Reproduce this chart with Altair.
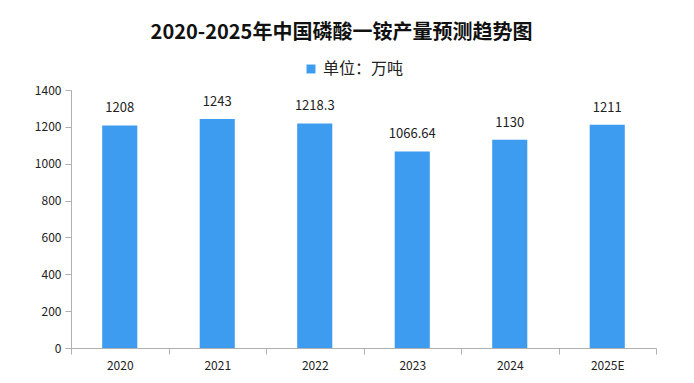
import altair as alt
import pandas as pd

years = ["2020", "2021", "2022", "2023", "2024", "2025E"]
values = [1208, 1243, 1218.3, 1066.64, 1130, 1211]
labels = ["1208", "1243", "1218.3", "1066.64", "1130", "1211"]
series = "单位：万吨"

df = pd.DataFrame({"year": years, "value": values, "label": labels, "series": [series] * len(years)})

FONT = "Noto Sans CJK SC"

base = alt.Chart(df).encode(
    x=alt.X("year:N", sort=years, title=None,
            scale=alt.Scale(paddingInner=0, paddingOuter=0),
            axis=alt.Axis(labelAngle=0, tickBand="extent",
                          domainColor="#b0b0b0",
                          tickColor="#b0b0b0", tickSize=6, labelFontSize=12,
                          labelColor="#222", labelFont=FONT, labelPadding=6)),
    y=alt.Y("value:Q", title=None,
            scale=alt.Scale(domain=[0, 1400]),
            axis=alt.Axis(values=[0, 200, 400, 600, 800, 1000, 1200, 1400], grid=False,
                          format="d", labelOverlap=False,
                          domainColor="#b0b0b0", tickColor="#b0b0b0", tickSize=6,
                          labelFontSize=12, labelColor="#222", labelFont=FONT, labelPadding=4)),
)

bars = base.mark_bar(color="#3d9cf0", width=alt.RelativeBandSize(0.36)).encode(
    color=alt.Color("series:N", scale=alt.Scale(range=["#3d9cf0"]),
                    legend=alt.Legend(title=None, orient="none", legendX=232, legendY=-29,
                                      symbolType="square", symbolSize=80,
                                      labelFontSize=16, labelFont=FONT, labelColor="#222",
                                      symbolStrokeWidth=0)),
)

text = base.mark_text(baseline="bottom", dy=-10, fontSize=13, font=FONT, color="#222").encode(
    text="label:N",
)

chart = (bars + text).properties(
    width=585,
    height=258,
    title=alt.TitleParams("2020-2025年中国磷酸一铵产量预测趋势图", fontSize=20, font=FONT,
                          fontWeight="bold", color="#111", anchor="middle", dx=-22, offset=18),
    autosize=alt.AutoSizeParams(type="none"),
    padding={"left": 63, "top": 82, "right": 30, "bottom": 25},
).configure_view(stroke=None)

chart.save("out.html", embed_options={"renderer": "svg", "actions": False})
